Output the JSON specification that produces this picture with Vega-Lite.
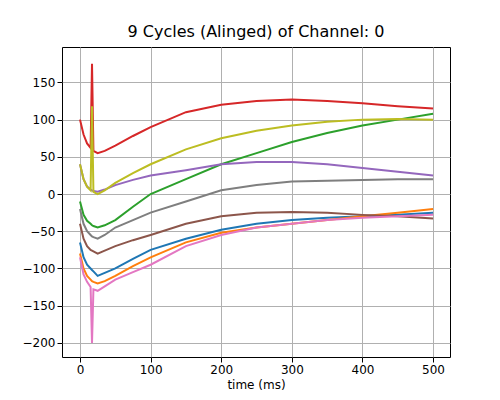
{
  "$schema": "https://vega.github.io/schema/vega-lite/v6.json",
  "autosize": "none",
  "padding": {"left": 62, "top": 47, "right": 50, "bottom": 43},
  "width": 388, "height": 310,
  "title": {"text": "9 Cycles (Alinged) of Channel: 0", "font": "DejaVu Sans", "fontSize": 16, "fontWeight": "normal", "offset": 7},
  "config": {
    "view": {"stroke": "black"},
    "axis": {"labelFont": "DejaVu Sans", "titleFont": "DejaVu Sans", "labelFontSize": 12, "titleFontSize": 12, "titleFontWeight": "normal", "labelColor": "black", "titleColor": "black", "grid": true, "gridColor": "#b0b0b0", "domain": false, "tickColor": "black", "titlePadding": 4}
  },
  "data": {"values": [
    {"t": 0, "c0": -65, "c1": -80, "c2": -10, "c3": 100, "c4": 40, "c5": -40, "c6": -85, "c7": -20, "c8": 40},
    {"t": 5, "c0": -85, "c1": -100, "c2": -28, "c3": 80, "c4": 20, "c5": -60, "c6": -108, "c7": -40, "c8": 20},
    {"t": 10, "c0": -95, "c1": -110, "c2": -36, "c3": 68, "c4": 10, "c5": -70, "c6": -118, "c7": -50, "c8": 10},
    {"t": 15, "c0": -100, "c1": -115, "c2": -40, "c3": 62, "c4": 6, "c5": -75, "c6": -125, "c7": -55, "c8": 5},
    {"t": 17, "c0": -102, "c1": -117, "c2": -42, "c3": 175, "c4": 5, "c5": -76, "c6": -200, "c7": -57, "c8": 118},
    {"t": 19, "c0": -104, "c1": -118, "c2": -43, "c3": 58, "c4": 4, "c5": -77, "c6": -128, "c7": -58, "c8": 3},
    {"t": 25, "c0": -110, "c1": -120, "c2": -45, "c3": 55, "c4": 3, "c5": -80, "c6": -130, "c7": -60, "c8": 0},
    {"t": 35, "c0": -106, "c1": -117, "c2": -42, "c3": 58, "c4": 6, "c5": -76, "c6": -124, "c7": -55, "c8": 5},
    {"t": 50, "c0": -100, "c1": -110, "c2": -35, "c3": 65, "c4": 12, "c5": -70, "c6": -115, "c7": -45, "c8": 15},
    {"t": 75, "c0": -87, "c1": -97, "c2": -17, "c3": 78, "c4": 19, "c5": -62, "c6": -105, "c7": -35, "c8": 28},
    {"t": 100, "c0": -75, "c1": -85, "c2": 0, "c3": 90, "c4": 25, "c5": -55, "c6": -95, "c7": -25, "c8": 40},
    {"t": 150, "c0": -60, "c1": -65, "c2": 20, "c3": 110, "c4": 32, "c5": -40, "c6": -70, "c7": -10, "c8": 60},
    {"t": 200, "c0": -48, "c1": -52, "c2": 40, "c3": 120, "c4": 40, "c5": -30, "c6": -55, "c7": 5, "c8": 75},
    {"t": 250, "c0": -40, "c1": -45, "c2": 55, "c3": 125, "c4": 43, "c5": -25, "c6": -45, "c7": 12, "c8": 85},
    {"t": 300, "c0": -35, "c1": -40, "c2": 70, "c3": 127, "c4": 43, "c5": -24, "c6": -40, "c7": 17, "c8": 92},
    {"t": 350, "c0": -32, "c1": -35, "c2": 82, "c3": 125, "c4": 40, "c5": -25, "c6": -35, "c7": 18, "c8": 97},
    {"t": 400, "c0": -30, "c1": -30, "c2": 92, "c3": 122, "c4": 35, "c5": -28, "c6": -32, "c7": 19, "c8": 100},
    {"t": 450, "c0": -28, "c1": -25, "c2": 100, "c3": 118, "c4": 30, "c5": -30, "c6": -30, "c7": 20, "c8": 101},
    {"t": 500, "c0": -25, "c1": -20, "c2": 108, "c3": 115, "c4": 25, "c5": -33, "c6": -28, "c7": 20, "c8": 100}
  ]},
  "transform": [{"fold": ["c0", "c1", "c2", "c3", "c4", "c5", "c6", "c7", "c8"], "as": ["cycle", "y"]}],
  "mark": {"type": "line", "strokeWidth": 2},
  "encoding": {
    "x": {"field": "t", "type": "quantitative", "title": "time (ms)", "scale": {"domain": [-25.5, 524], "nice": false, "zero": false}, "axis": {"values": [0, 100, 200, 300, 400, 500]}},
    "y": {"field": "y", "type": "quantitative", "title": null, "scale": {"domain": [-219, 197.6], "nice": false, "zero": false}, "axis": {"values": [-200, -150, -100, -50, 0, 50, 100, 150]}},
    "color": {"field": "cycle", "type": "nominal", "legend": null, "scale": {"domain": ["c0", "c1", "c2", "c3", "c4", "c5", "c6", "c7", "c8"], "range": ["#1f77b4", "#ff7f0e", "#2ca02c", "#d62728", "#9467bd", "#8c564b", "#e377c2", "#7f7f7f", "#bcbd22"]}},
    "order": {"field": "t", "type": "quantitative"}
  }
}
